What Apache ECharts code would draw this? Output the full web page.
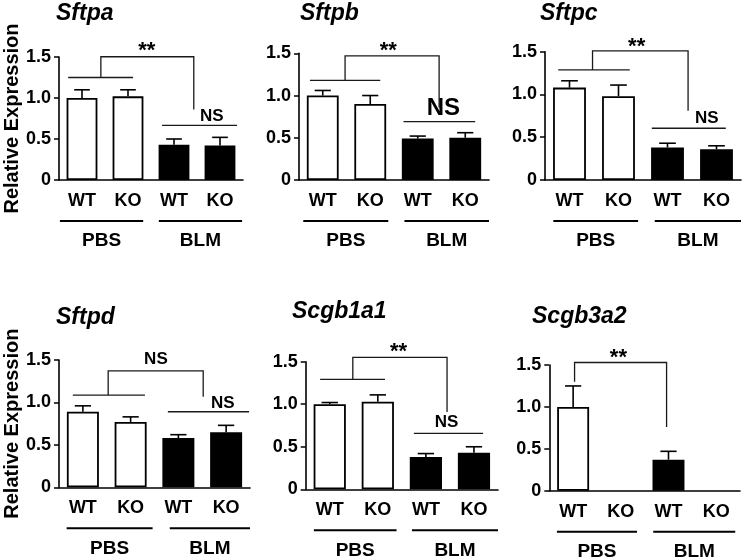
<!DOCTYPE html>
<html><head><meta charset="utf-8">
<script src="https://cdn.jsdelivr.net/npm/echarts@6/dist/echarts.min.js"></script>
<style>html,body{margin:0;padding:0;background:#fff}#c{width:744px;height:559px}</style>
</head><body><div id="c"></div>
<script>
// ---- data ----
const categories = ['WT', 'KO', 'WT', 'KO'];
const groupLabels = ['PBS', 'BLM'];
const genes = ['Sftpa', 'Sftpb', 'Sftpc', 'Sftpd', 'Scgb1a1', 'Scgb3a2'];
const yAxisTitle = 'Relative Expression';

const sftpaMean = [1.00, 1.02, 0.43, 0.42];
const sftpaSem  = [0.10, 0.08, 0.07, 0.10];
const sftpbMean = [1.00, 0.90, 0.49, 0.50];
const sftpbSem  = [0.06, 0.10, 0.03, 0.06];
const sftpcMean = [1.08, 0.98, 0.38, 0.36];
const sftpcSem  = [0.08, 0.13, 0.05, 0.04];
const sftpdMean = [0.89, 0.77, 0.58, 0.65];
const sftpdSem  = [0.07, 0.06, 0.04, 0.08];
const scgb1a1Mean = [1.00, 1.03, 0.38, 0.43];
const scgb1a1Sem  = [0.02, 0.08, 0.04, 0.07];
const scgb3a2Mean = [1.00, 0, 0.37, 0];
const scgb3a2Sem  = [0.25, null, 0.10, null];

// significance labels per panel
const sftpaSig = ['**', 'NS'];
const sftpbSig = ['**', 'NS'];
const sftpcSig = ['**', 'NS'];
const sftpdSig = ['NS', 'NS'];
const scgb1a1Sig = ['**', 'NS'];
const scgb3a2Sig = ['**'];

const means = [sftpaMean, sftpbMean, sftpcMean, sftpdMean, scgb1a1Mean, scgb3a2Mean];
const sems = [sftpaSem, sftpbSem, sftpcSem, sftpdSem, scgb1a1Sem, scgb3a2Sem];
const sigs = [sftpaSig, sftpbSig, sftpcSig, sftpdSig, scgb1a1Sig, scgb3a2Sig];

// ---- layout (positions & styles) ----
const FONT = "'Liberation Sans', Arial, sans-serif";
const grids = [
  {left: 59, top: 57, width: 184, height: 123},
  {left: 299, top: 53.3, width: 190, height: 126.7},
  {left: 545, top: 51.7, width: 196, height: 128.3},
  {left: 59, top: 360, width: 191, height: 127.3},
  {left: 305.7, top: 361.7, width: 192.3, height: 127.6},
  {left: 549.3, top: 365, width: 190.7, height: 125.7}
];
const titlePos = [[56, 2], [300, 2], [540, 2], [56, 306], [292, 300], [532, 305]];
// annotation geometry in category units (x) and axis values (y)
const annoLayout = [
  {lines: [[-0.30, 1.11, 1.25], [1.74, 3.37, 0.667]], link: [0.41, 1.25, 1.503, 2.43, 0.86],
   texts: [[1.41, 1.57, 22], [2.82, 0.778, 17]], under: [[-0.48, 1.33], [1.67, 3.48]]},
  {lines: [[-0.27, 1.21, 1.18], [1.70, 3.21, 0.69]], link: [0.47, 1.18, 1.47, 2.45, 0.857],
   texts: [[1.38, 1.53, 22], [2.54, 0.85, 24]], under: [[-0.41, 1.38], [1.72, 3.5]]},
  {lines: [[-0.23, 1.23, 1.287], [1.68, 3.19, 0.605]], link: [0.47, 1.287, 1.51, 2.42, 0.81],
   texts: [[1.37, 1.56, 22], [2.80, 0.716, 17]], under: [[-0.33, 1.40], [1.74, 3.5]]},
  {lines: [[-0.21, 1.30, 1.087], [1.78, 3.48, 0.89]], link: [0.53, 1.087, 1.373, 2.52, 1.067],
   texts: [[1.53, 1.51, 17], [2.93, 0.993, 17]], under: [[-0.34, 1.46], [1.82, 3.5]]},
  {lines: [[-0.20, 1.15, 1.293], [1.75, 3.19, 0.658]], link: [0.48, 1.293, 1.55, 2.44, 0.91],
   texts: [[1.43, 1.61, 22], [2.43, 0.785, 17]], under: [[-0.33, 1.39], [1.71, 3.5]]},
  {lines: [], link: [0.03, 1.30, 1.53, 1.96, 0.76],
   texts: [[0.95, 1.59, 22]], under: [[-0.34, 1.34], [1.68, 3.40]]}
];

function annoRender(spec, sigText) {
  return function (params, api) {
    const c0 = api.coord([0, 0]);
    const c1 = api.coord([1, 0]);
    const bw = c1[0] - c0[0];
    const X = x => c0[0] + x * bw;
    const Y = v => api.coord([0, v])[1];
    const base = c0[1];
    const ls = {stroke: '#1a1a1a', lineWidth: 1.3, fill: null};
    const children = [];
    spec.lines.forEach(l => children.push({type: 'line',
      shape: {x1: X(l[0]), y1: Y(l[2]), x2: X(l[1]), y2: Y(l[2])}, style: ls}));
    const k = spec.link;
    children.push({type: 'polyline', shape: {points: [[X(k[0]), Y(k[1])], [X(k[0]), Y(k[2])], [X(k[3]), Y(k[2])], [X(k[3]), Y(k[4])]]}, style: ls});
    spec.texts.forEach((t, i) => children.push({type: 'text', x: X(t[0]), y: Y(t[1]),
      style: {text: sigText[i], fontSize: t[2], fontWeight: 'bold', fontFamily: FONT, fill: '#000', align: 'center', verticalAlign: 'middle'}}));
    spec.under.forEach((u, i) => {
      children.push({type: 'line', shape: {x1: X(u[0]), y1: base + 41, x2: X(u[1]), y2: base + 41}, style: {stroke: '#000', lineWidth: 2}});
      children.push({type: 'text', x: (X(u[0]) + X(u[1])) / 2, y: base + 61,
        style: {text: groupLabels[i], fontSize: 19, fontWeight: 'bold', fontFamily: FONT, fill: '#000', align: 'center', verticalAlign: 'middle'}});
    });
    return {type: 'group', children};
  };
}

function errRender(params, api) {
  const top = api.value(2);
  if (top == null || isNaN(top)) return null;
  const p0 = api.coord([api.value(0), api.value(1)]);
  const p1 = api.coord([api.value(0), top]);
  const half = api.size([1, 0])[0] * 0.17;
  const st = {stroke: '#000', lineWidth: 1.6};
  return {type: 'group', children: [
    {type: 'line', shape: {x1: p0[0], y1: p0[1], x2: p1[0], y2: p1[1]}, style: st},
    {type: 'line', shape: {x1: p1[0] - half, y1: p1[1], x2: p1[0] + half, y2: p1[1]}, style: st}
  ]};
}

const option = {
  animation: false,
  backgroundColor: '#fff',
  title: genes.map((g, i) => ({text: g, left: titlePos[i][0], top: titlePos[i][1], padding: 0,
    textStyle: {fontSize: 23, fontWeight: 'bold', fontStyle: 'italic', fontFamily: FONT, color: '#000'}})),
  grid: grids.map(g => Object.assign({containLabel: false}, g)),
  xAxis: grids.map((g, i) => ({
    type: 'category', gridIndex: i, data: categories,
    axisLine: {lineStyle: {color: '#000', width: 1.6}},
    axisTick: {alignWithLabel: true, length: 5, lineStyle: {color: '#000', width: 1.5}},
    axisLabel: {margin: 12, fontSize: 18, fontWeight: 'bold', fontFamily: FONT, color: '#000'}
  })),
  yAxis: grids.map((g, i) => ({
    type: 'value', gridIndex: i, min: 0, max: 1.5, interval: 0.5,
    name: (i === 0 || i === 3) ? yAxisTitle : '',
    nameLocation: 'middle', nameGap: 36, nameRotate: 90,
    nameTextStyle: {fontSize: 20, fontWeight: 'bold', fontFamily: FONT, color: '#000'},
    splitLine: {show: false},
    axisLine: {show: true, lineStyle: {color: '#000', width: 1.6}},
    axisTick: {show: true, length: 5, lineStyle: {color: '#000', width: 1.5}},
    axisLabel: {margin: 8, fontSize: 18, fontWeight: 'bold', fontFamily: FONT, color: '#000',
      formatter: v => v === 0 ? '0' : v.toFixed(1)}
  })),
  series: []
};

means.forEach((m, i) => {
  option.series.push({
    type: 'bar', xAxisIndex: i, yAxisIndex: i, barWidth: '67%',
    data: m.map((v, j) => ({value: v, itemStyle: {color: j < 2 ? '#fff' : '#000', borderColor: '#000', borderWidth: v === 0 ? 0 : 1.8}})),
    z: 2
  });
  option.series.push({
    type: 'custom', xAxisIndex: i, yAxisIndex: i, renderItem: errRender, z: 3, clip: false,
    encode: {x: 0, y: 1},
    data: m.map((v, j) => [j, v, sems[i][j] == null ? null : v + sems[i][j]])
  });
  option.series.push({
    type: 'custom', xAxisIndex: i, yAxisIndex: i, renderItem: annoRender(annoLayout[i], sigs[i]), z: 4, clip: false,
    encode: {x: 0, y: 1}, data: [[0, 0]], silent: true
  });
});

const chart = echarts.init(document.getElementById('c'), null, {renderer: 'canvas'});
chart.setOption(option);
</script>
</body></html>
